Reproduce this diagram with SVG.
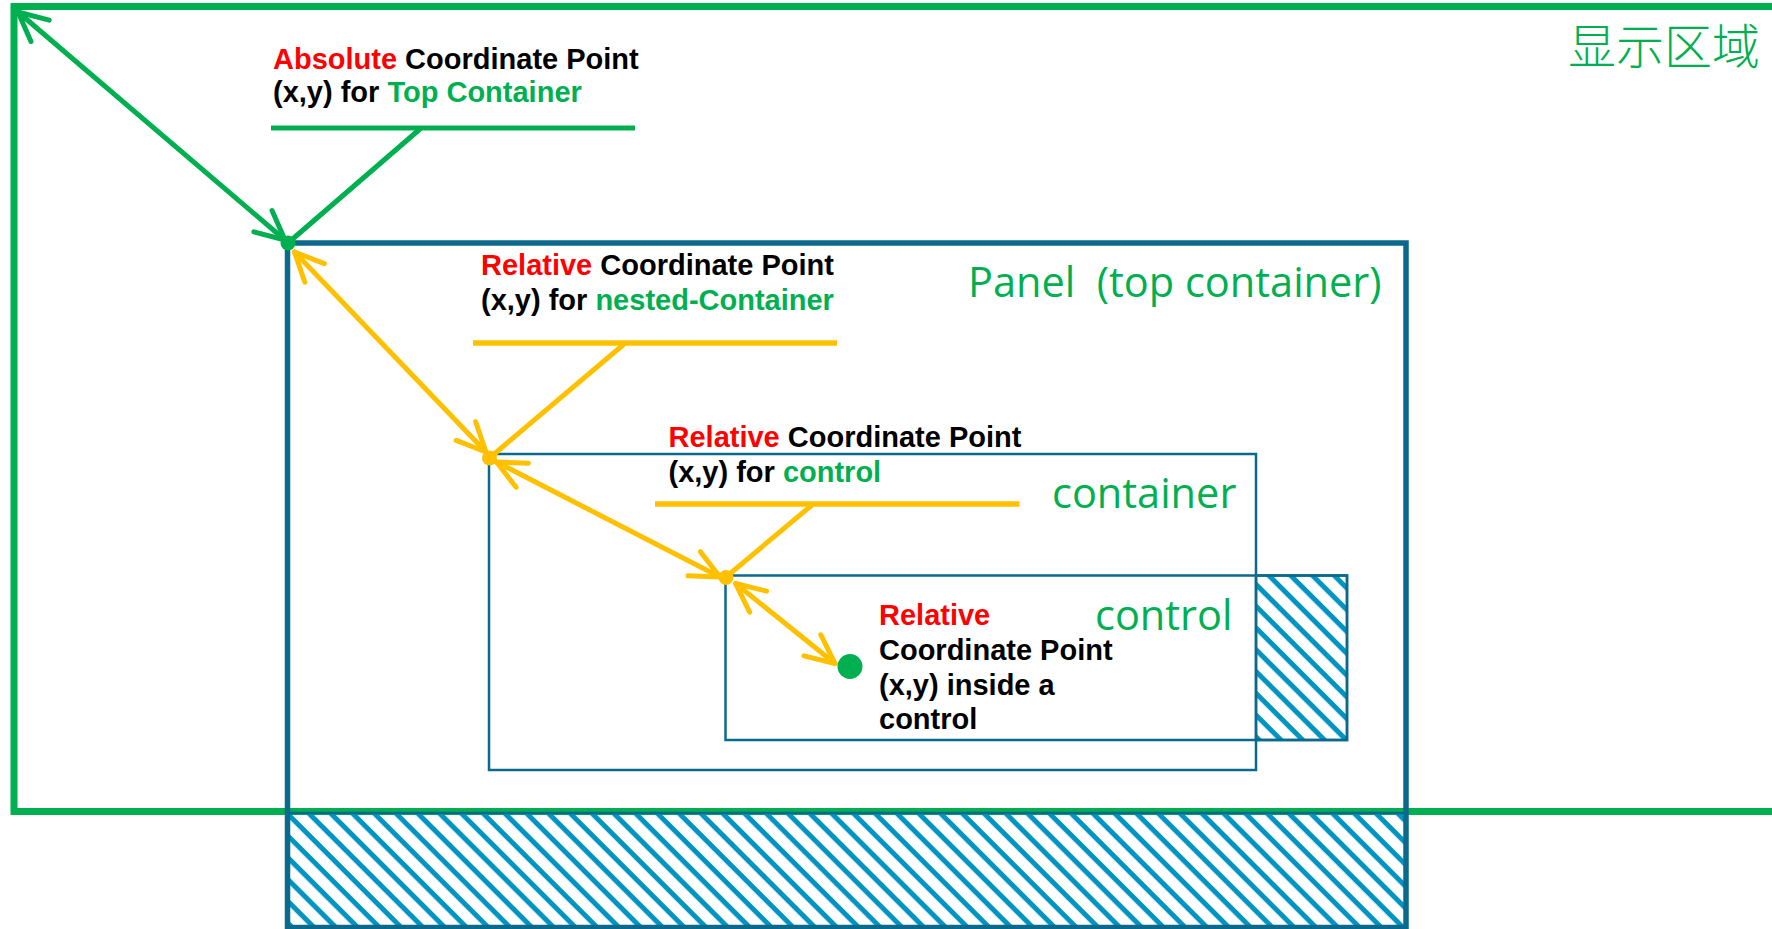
<svg xmlns="http://www.w3.org/2000/svg" width="1772" height="929" viewBox="0 0 1772 929">
  <style>
    .frame-green { fill: none; stroke: #00B050; stroke-width: 7; }
    .box-outer { fill: none; stroke: #0b6a8c; stroke-width: 5.5; }
    .box-inner { fill: none; stroke: #0b6a8c; stroke-width: 2.5; }
    .hatched { fill: url(#hatch); stroke: #0b6a8c; stroke-width: 2.5; }
    .ln-green { fill: none; stroke: #00B050; stroke-width: 5; stroke-linecap: round; }
    .ln-yellow { fill: none; stroke: #FFC000; stroke-width: 5; stroke-linecap: round; }
    .callout-green { stroke: #00B050; stroke-width: 5; }
    .callout-yellow { stroke: #FFC000; stroke-width: 5.5; }
    .note { font-family: "Liberation Sans", Arial, sans-serif; font-weight: bold; font-size: 29px; fill: #000000; }
    .red { fill: #FF0000; }
    .grn { fill: #00B050; }
    .title { font-family: "Open Sans", "Noto Sans CJK SC", sans-serif; font-size: 41.5px; fill: #00B050; }
    .cjk { font-family: "Noto Sans CJK SC", sans-serif; font-weight: 300; font-size: 48px; fill: #00B050; }
  </style>
  <defs>
    <pattern id="hatch" patternUnits="userSpaceOnUse" width="15.4" height="15.4" patternTransform="rotate(45)">
      <rect x="0" y="0" width="15.4" height="5" fill="#0094c2"/>
    </pattern>
    <marker id="ah-green" viewBox="-34 -18 40 36" refX="0" refY="0" markerWidth="40" markerHeight="36" markerUnits="userSpaceOnUse" orient="auto-start-reverse" overflow="visible">
      <path d="M-29,-14 L0,0 L-29,14" fill="none" stroke="#00B050" stroke-width="5" stroke-linecap="round" stroke-linejoin="round"/>
    </marker>
    <marker id="ah-yellow" viewBox="-34 -18 40 36" refX="0" refY="0" markerWidth="40" markerHeight="36" markerUnits="userSpaceOnUse" orient="auto-start-reverse" overflow="visible">
      <path d="M-29,-13.5 L0,0 L-29,13.5" fill="none" stroke="#FFC000" stroke-width="5" stroke-linecap="round" stroke-linejoin="round"/>
    </marker>
  </defs>

  <rect width="1772" height="929" fill="#ffffff"/>

  <!-- screen / display area -->
  <g id="display-area">
    <rect class="frame-green" x="14" y="6.5" width="1800" height="805"/>
    <text class="cjk" x="1760" y="64" text-anchor="end">显示区域</text>
  </g>

  <!-- top-level panel, partly outside the display area -->
  <g id="panel">
    <rect class="hatched" x="287.5" y="813" width="1118.5" height="114"/>
    <rect class="box-outer" x="287.5" y="243" width="1118.5" height="684.5"/>
    <text class="title" x="968" y="297" xml:space="preserve">Panel  (top container)</text>
  </g>

  <!-- nested container -->
  <g id="container">
    <rect class="box-inner" x="489" y="454" width="767" height="316"/>
    <text class="title" x="1052" y="508">container</text>
  </g>

  <!-- control, clipped part hatched -->
  <g id="control">
    <rect class="hatched" x="1256" y="575.5" width="91" height="164.5"/>
    <rect class="box-inner" x="725.5" y="575.5" width="621.5" height="164.5"/>
    <text class="title" x="1095" y="630">control</text>
  </g>

  <!-- coordinate arrows and callout leaders -->
  <g id="connectors">
    <line class="ln-green" x1="18" y1="12" x2="285" y2="240" marker-start="url(#ah-green)" marker-end="url(#ah-green)"/>
    <line class="callout-green" x1="271" y1="128" x2="635" y2="128"/>
    <line class="ln-green" x1="420" y1="129" x2="288" y2="243"/>

    <line class="ln-yellow" x1="294.5" y1="252" x2="486" y2="452" marker-start="url(#ah-yellow)" marker-end="url(#ah-yellow)"/>
    <line class="callout-yellow" x1="473" y1="343" x2="837" y2="343"/>
    <line class="ln-yellow" x1="623" y1="345" x2="489.5" y2="458"/>

    <line class="ln-yellow" x1="496.5" y1="462" x2="720" y2="577" marker-start="url(#ah-yellow)" marker-end="url(#ah-yellow)"/>
    <line class="callout-yellow" x1="655" y1="504" x2="1019.5" y2="504"/>
    <line class="ln-yellow" x1="812" y1="505" x2="726" y2="577"/>

    <line class="ln-yellow" x1="735.5" y1="583.5" x2="835" y2="663.5" marker-start="url(#ah-yellow)" marker-end="url(#ah-yellow)"/>
  </g>

  <!-- anchor points -->
  <g id="points">
    <circle cx="288" cy="243" r="7.5" fill="#00B050"/>
    <circle cx="489.5" cy="458" r="7.5" fill="#FFC000"/>
    <circle cx="726" cy="577.5" r="7.5" fill="#FFC000"/>
    <circle cx="850" cy="666.5" r="12.5" fill="#00B050"/>
  </g>

  <!-- notes -->
  <g id="note-absolute">
    <text class="note" x="273" y="68.5"><tspan class="red">Absolute</tspan> Coordinate Point</text>
    <text class="note" x="273" y="102">(x,y) for <tspan class="grn">Top Container</tspan></text>
  </g>
  <g id="note-nested">
    <text class="note" x="481" y="275"><tspan class="red">Relative</tspan> Coordinate Point</text>
    <text class="note" x="481" y="309.5">(x,y) for <tspan class="grn">nested-Container</tspan></text>
  </g>
  <g id="note-control">
    <text class="note" x="668.5" y="446.5"><tspan class="red">Relative</tspan> Coordinate Point</text>
    <text class="note" x="668.5" y="481.5">(x,y) for <tspan class="grn">control</tspan></text>
  </g>
  <g id="note-inside">
    <text class="note" x="879" y="625"><tspan class="red">Relative</tspan></text>
    <text class="note" x="879" y="660">Coordinate Point</text>
    <text class="note" x="879" y="694.5">(x,y) inside a</text>
    <text class="note" x="879" y="729">control</text>
  </g>
</svg>
